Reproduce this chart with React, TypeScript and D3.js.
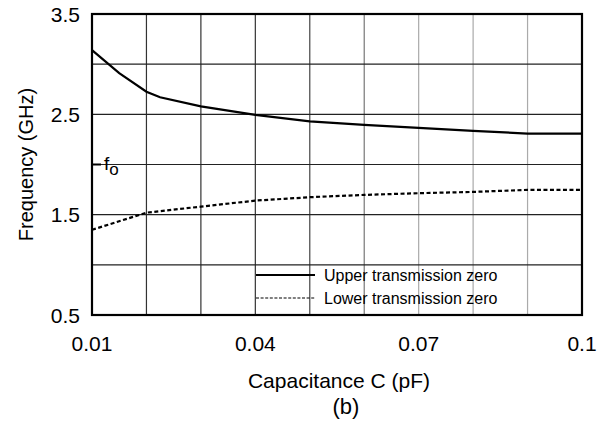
import { useEffect, useRef } from "react";
import * as d3 from "d3";

// capacitance values (pF)
const upperCap = [0.01, 0.015, 0.02, 0.0225, 0.03, 0.04, 0.05, 0.06, 0.07, 0.08, 0.09, 0.1];
const upperFreq = [3.14, 2.91, 2.726, 2.67, 2.58, 2.495, 2.43, 2.395, 2.365, 2.335, 2.308, 2.308];

const lowerCap = [0.01, 0.02, 0.03, 0.04, 0.05, 0.06, 0.07, 0.08, 0.09, 0.1];
const lowerFreq = [1.349, 1.52, 1.58, 1.64, 1.674, 1.697, 1.714, 1.727, 1.747, 1.747];

const xTicks = [0.01, 0.04, 0.07, 0.1];
const yTicks = [0.5, 1.5, 2.5, 3.5];
const xGrid = [0.02, 0.03, 0.04, 0.05, 0.06, 0.07, 0.08, 0.09];
const yGrid = [1.0, 1.5, 2.0, 2.5, 3.0];
const gridShade = ["#333", "#333", "#333", "#444", "#777", "#aaa", "#aaa", "#aaa"];

const legendLabels = ["Upper transmission zero", "Lower transmission zero"];
const f0 = 2.0;

const W = 610;
const H = 423;
const FONT = "'Liberation Sans', Arial, sans-serif";

export default function App() {
  const svgRef = useRef<SVGSVGElement | null>(null);

  useEffect(() => {
    if (!svgRef.current) return;
    const svg = d3.select(svgRef.current);
    svg.selectAll("*").remove();

    const left = 92, right = 582, top = 14, bottom = 315;
    const x = d3.scaleLinear().domain([0.01, 0.1]).range([left, right]);
    const y = d3.scaleLinear().domain([0.5, 3.5]).range([bottom, top]);

    // grid
    svg.append("g")
      .selectAll("line")
      .data(xGrid)
      .enter()
      .append("line")
      .attr("x1", d => x(d)).attr("x2", d => x(d))
      .attr("y1", top).attr("y2", bottom)
      .attr("stroke", (_d, i) => gridShade[i])
      .attr("stroke-width", 1.2);

    svg.append("g")
      .selectAll("line")
      .data(yGrid)
      .enter()
      .append("line")
      .attr("x1", left).attr("x2", right)
      .attr("y1", d => y(d)).attr("y2", d => y(d))
      .attr("stroke", "#222")
      .attr("stroke-width", 1.2);

    // curves
    const line = d3.line<[number, number]>().x(d => x(d[0])).y(d => y(d[1]));
    const upper = upperCap.map((c, i) => [c, upperFreq[i]] as [number, number]);
    const lower = lowerCap.map((c, i) => [c, lowerFreq[i]] as [number, number]);

    svg.append("path")
      .attr("d", line(upper))
      .attr("fill", "none")
      .attr("stroke", "#000")
      .attr("stroke-width", 2.2);

    svg.append("path")
      .attr("d", line(lower))
      .attr("fill", "none")
      .attr("stroke", "#000")
      .attr("stroke-width", 2.2)
      .attr("stroke-dasharray", "4,2.5");

    // frame
    svg.append("rect")
      .attr("x", left).attr("y", top)
      .attr("width", right - left).attr("height", bottom - top)
      .attr("fill", "none")
      .attr("stroke", "#000")
      .attr("stroke-width", 2.2);

    // f0 marker
    svg.append("line")
      .attr("x1", left).attr("x2", left + 9)
      .attr("y1", y(f0)).attr("y2", y(f0))
      .attr("stroke", "#000").attr("stroke-width", 2);
    const f0Text = svg.append("text")
      .attr("x", left + 12).attr("y", y(f0) + 5)
      .attr("font-family", FONT).attr("font-size", 19)
      .text("f");
    f0Text.append("tspan")
      .attr("dy", 5).attr("font-size", 17)
      .text("o");

    // legend
    const legY = [275, 298];
    legendLabels.forEach((lab, i) => {
      svg.append("line")
        .attr("x1", 256).attr("x2", 315)
        .attr("y1", legY[i]).attr("y2", legY[i])
        .attr("stroke", "#000")
        .attr("stroke-width", i === 0 ? 1.8 : 1.2)
        .attr("stroke-dasharray", i === 0 ? null : "3,1.6");
      svg.append("text")
        .attr("x", 324).attr("y", legY[i] + 5.5)
        .attr("font-family", FONT).attr("font-size", 16)
        .text(lab);
    });

    // tick labels
    svg.append("g")
      .selectAll("text")
      .data(xTicks)
      .enter()
      .append("text")
      .attr("x", d => x(d)).attr("y", 351)
      .attr("text-anchor", "middle")
      .attr("font-family", FONT).attr("font-size", 21)
      .text(d => String(d));

    svg.append("g")
      .selectAll("text")
      .data(yTicks)
      .enter()
      .append("text")
      .attr("x", 80).attr("y", d => y(d) + 7.5)
      .attr("text-anchor", "end")
      .attr("font-family", FONT).attr("font-size", 21)
      .text(d => d.toFixed(1));

    // titles
    svg.append("text")
      .attr("x", (left + right) / 2 + 2).attr("y", 388)
      .attr("text-anchor", "middle")
      .attr("font-family", FONT).attr("font-size", 21)
      .text("Capacitance C (pF)");
    svg.append("text")
      .attr("x", (left + right) / 2 + 9).attr("y", 414)
      .attr("text-anchor", "middle")
      .attr("font-family", FONT).attr("font-size", 22)
      .text("(b)");
    svg.append("text")
      .attr("transform", `translate(33,${(top + bottom) / 2}) rotate(-90)`)
      .attr("text-anchor", "middle")
      .attr("font-family", FONT).attr("font-size", 20)
      .text("Frequency (GHz)");
  }, []);

  return (
    <svg
      ref={svgRef}
      width={W}
      height={H}
      style={{ position: "absolute", left: 0, top: 0, background: "#fff", display: "block" }}
    />
  );
}
